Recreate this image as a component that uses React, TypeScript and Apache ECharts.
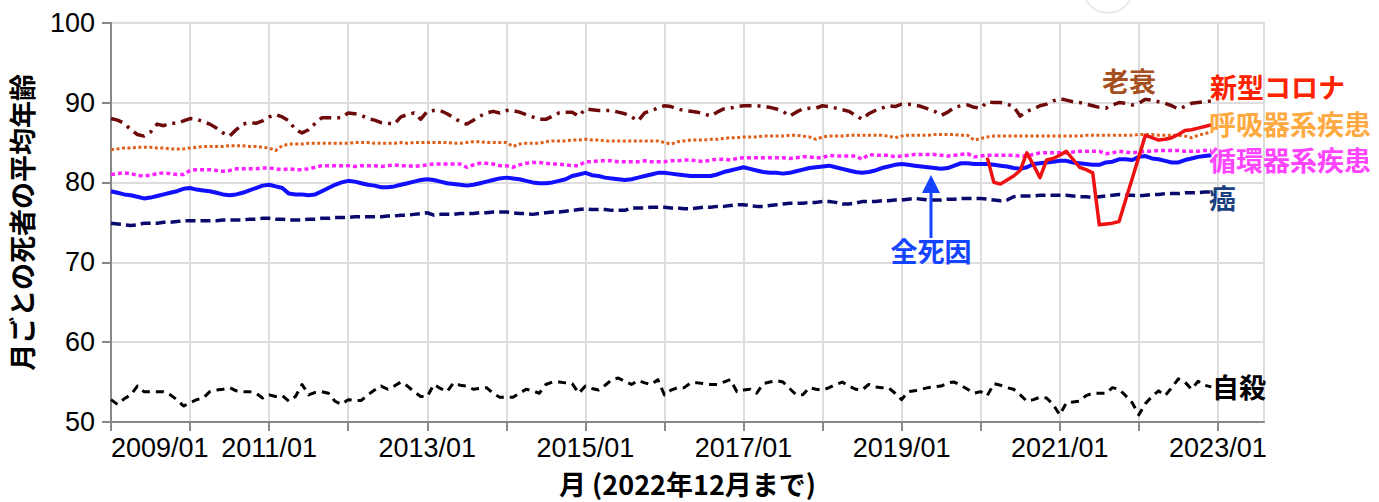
import React, { useEffect, useRef } from "react";
import * as echarts from "echarts";

// monthly values, index 0 = 2009/01 ... 167 = 2022/12
const START_YEAR = 2009;
const X_MAX = 175; // 2023/08 (axis end)
const COVID_START = 133; // 2020/02

const allCauses = [
  78.9, 78.7, 78.5, 78.4, 78.2, 78.0, 78.1, 78.3, 78.5, 78.7, 78.9, 79.2,
  79.3, 79.1, 79.0, 78.9, 78.7, 78.5, 78.4, 78.5, 78.7, 79.0, 79.3, 79.6,
  79.7, 79.5, 79.3, 78.6, 78.5, 78.5, 78.4, 78.5, 78.9, 79.3, 79.7, 80.0,
  80.2, 80.1, 79.9, 79.7, 79.6, 79.4, 79.4, 79.5, 79.7, 79.9, 80.1, 80.3,
  80.4, 80.3, 80.1, 79.9, 79.8, 79.7, 79.6, 79.7, 79.9, 80.1, 80.3, 80.5,
  80.6, 80.5, 80.4, 80.2, 80.0, 79.9, 79.9, 80.0, 80.2, 80.4, 80.8, 81.0,
  81.2, 80.9, 80.8, 80.6, 80.5, 80.4, 80.3, 80.4, 80.6, 80.8, 81.0, 81.2,
  81.2, 81.1, 81.0, 80.9, 80.8, 80.8, 80.8, 80.8, 81.0, 81.3, 81.5, 81.7,
  81.9, 81.7, 81.5, 81.3, 81.2, 81.2, 81.1, 81.2, 81.4, 81.6, 81.8, 81.9,
  82.0, 82.1, 81.9, 81.7, 81.5, 81.3, 81.2, 81.3, 81.5, 81.8, 82.0, 82.2,
  82.3, 82.2, 82.1, 82.0, 81.9, 81.8, 81.7, 81.8, 82.1, 82.4, 82.4, 82.3,
  82.3, 82.3, 82.2, 82.1, 82.0, 81.8, 81.7, 81.9, 82.3, 82.4, 82.5, 82.6,
  82.7, 82.7, 82.5, 82.4, 82.3, 82.2, 82.2, 82.5, 82.6, 82.9, 82.9, 82.8,
  83.2, 83.3, 83.0, 82.9, 82.7, 82.5, 82.5, 82.8, 83.0, 83.2, 83.3, 83.4,
];

const cancer = [
  74.9, 74.8, 74.7, 74.6, 74.7, 74.9, 74.9, 74.9, 75.0, 75.0, 75.1, 75.2,
  75.2, 75.2, 75.2, 75.2, 75.2, 75.3, 75.3, 75.3, 75.3, 75.4, 75.4, 75.5,
  75.5, 75.4, 75.4, 75.3, 75.3, 75.3, 75.4, 75.4, 75.5, 75.5, 75.6, 75.6,
  75.6, 75.7, 75.7, 75.7, 75.7, 75.7, 75.8, 75.8, 75.9, 75.9, 76.0, 76.1,
  76.2, 75.9, 76.0, 76.0, 76.0, 76.1, 76.1, 76.1, 76.2, 76.2, 76.3, 76.3,
  76.3, 76.2, 76.1, 76.1, 76.0, 76.1, 76.2, 76.3, 76.3, 76.4, 76.5, 76.6,
  76.7, 76.6, 76.6, 76.6, 76.5, 76.5, 76.5, 76.8, 76.8, 76.8, 76.9, 76.9,
  76.9, 76.8, 76.8, 76.7, 76.7, 76.8, 76.9, 76.9, 77.0, 77.0, 77.1, 77.2,
  77.2, 77.1, 77.0, 77.0, 77.1, 77.2, 77.3, 77.4, 77.4, 77.4, 77.5, 77.5,
  77.6, 77.6, 77.5, 77.3, 77.3, 77.4, 77.6, 77.6, 77.6, 77.7, 77.7, 77.8,
  77.8, 77.9, 78.0, 77.9, 77.8, 77.8, 77.8, 77.9, 77.9, 78.0, 78.0, 78.0,
  78.0, 77.9, 77.8, 77.7, 77.8, 78.2, 78.3, 78.3, 78.3, 78.4, 78.4, 78.4,
  78.4, 78.4, 78.3, 78.2, 78.2, 78.1, 78.2, 78.3, 78.4, 78.5, 78.4, 78.4,
  78.3, 78.4, 78.5, 78.5, 78.6, 78.6, 78.6, 78.7, 78.7, 78.7, 78.8, 78.8,
];

const circulatory = [
  81.0, 81.1, 81.2, 81.1, 80.9, 80.8, 80.9, 81.1, 81.2, 81.1, 81.0, 81.0,
  81.5, 81.6, 81.6, 81.6, 81.5, 81.4, 81.5, 81.7, 81.7, 81.7, 81.7, 81.8,
  81.8, 81.7, 81.6, 81.7, 81.6, 81.6, 81.7, 81.9, 82.1, 82.1, 82.1, 82.1,
  82.1, 82.0, 82.1, 82.1, 82.1, 82.0, 82.1, 82.2, 82.1, 82.1, 82.0, 82.1,
  82.2, 82.3, 82.3, 82.3, 82.3, 82.3, 81.9, 82.2, 82.4, 82.4, 82.3, 82.1,
  82.1, 81.9, 82.2, 82.4, 82.5, 82.5, 82.4, 82.3, 82.3, 82.2, 82.1, 82.1,
  82.6, 82.6, 82.7, 82.7, 82.7, 82.6, 82.6, 82.6, 82.6, 82.7, 82.6, 82.6,
  82.6, 82.7, 82.7, 82.8, 82.8, 82.7, 82.6, 82.8, 82.9, 82.9, 82.8, 83.0,
  83.1, 83.1, 83.1, 83.1, 83.1, 83.1, 83.1, 83.0, 83.1, 83.2, 83.2, 83.1,
  83.1, 83.4, 83.3, 83.3, 83.3, 83.3, 82.9, 83.5, 83.4, 83.4, 83.4, 83.2,
  83.3, 83.4, 83.5, 83.5, 83.5, 83.5, 83.4, 83.3, 83.4, 83.5, 83.6, 83.2,
  83.3, 83.4, 83.4, 83.4, 83.4, 83.4, 83.3, 83.3, 83.5, 83.7, 83.7, 83.7,
  83.7, 83.7, 83.8, 83.9, 83.9, 83.9, 83.9, 83.6, 83.7, 83.9, 83.8, 83.7,
  83.8, 83.9, 83.9, 84.0, 84.0, 84.0, 84.0, 83.9, 83.9, 83.9, 84.0, 84.0,
];

const respiratory = [
  84.1, 84.2, 84.3, 84.3, 84.4, 84.4, 84.4, 84.3, 84.3, 84.2, 84.2, 84.2,
  84.3, 84.4, 84.5, 84.5, 84.5, 84.5, 84.6, 84.6, 84.6, 84.5, 84.5, 84.4,
  84.3, 84.0, 84.6, 84.8, 84.8, 84.8, 84.9, 84.9, 84.9, 84.9, 84.9, 84.9,
  84.9, 85.0, 85.0, 85.0, 84.9, 84.9, 84.9, 84.9, 85.0, 84.9, 85.0, 85.0,
  85.0, 85.0, 85.0, 85.0, 84.9, 84.9, 85.0, 85.1, 85.1, 85.0, 85.0, 85.0,
  85.0, 84.5, 84.8, 84.9, 84.9, 84.9, 85.1, 85.2, 85.2, 85.2, 85.3, 85.3,
  85.4, 85.3, 85.3, 85.2, 85.2, 85.2, 85.2, 85.2, 85.2, 85.2, 85.2, 85.2,
  85.0, 84.8, 85.1, 85.2, 85.3, 85.3, 85.3, 85.4, 85.4, 85.5, 85.6, 85.6,
  85.7, 85.7, 85.7, 85.8, 85.8, 85.8, 85.8, 85.9, 85.9, 85.8, 85.7, 85.4,
  85.7, 85.8, 85.8, 85.8, 85.9, 85.9, 85.9, 85.9, 85.9, 85.9, 85.8, 85.6,
  85.8, 85.9, 85.9, 85.9, 85.9, 86.0, 86.0, 86.0, 86.0, 85.9, 85.9, 85.3,
  85.5, 85.7, 85.8, 85.8, 85.8, 85.8, 85.8, 85.8, 85.8, 85.8, 85.8, 85.8,
  85.8, 85.8, 85.8, 85.8, 85.9, 85.9, 85.9, 85.9, 85.9, 85.9, 85.9, 85.9,
  86.0, 86.0, 86.0, 85.9, 85.9, 85.9, 85.9, 85.8, 85.6, 85.9, 86.1, 86.3,
];

const senility = [
  88.0, 87.8, 87.4, 86.6, 86.0, 85.8, 86.3, 87.3, 87.1, 87.4, 87.4, 87.7,
  88.0, 87.9, 87.6, 87.3, 86.8, 86.2, 85.8, 86.6, 87.3, 87.5, 87.4, 87.7,
  88.2, 88.5, 88.2, 87.7, 86.6, 86.2, 86.6, 87.4, 88.1, 88.1, 88.1, 88.1,
  88.7, 88.6, 88.4, 88.0, 87.8, 87.5, 87.4, 87.3, 88.2, 88.5, 88.7, 87.9,
  88.9, 89.0, 89.0, 88.6, 88.1, 87.6, 87.3, 87.8, 88.3, 88.7, 88.9, 88.7,
  89.0, 89.0, 88.8, 88.5, 88.2, 87.9, 87.9, 88.3, 88.7, 88.8, 88.8, 88.3,
  89.2, 89.1, 89.0, 89.0, 89.0, 88.8, 88.6, 88.2, 87.7, 88.7, 89.0, 89.3,
  89.6, 89.5, 89.2, 89.0, 88.9, 88.8, 88.6, 88.3, 88.8, 89.2, 89.3, 89.5,
  89.6, 89.6, 89.6, 89.5, 89.4, 89.2, 88.9, 88.3, 88.8, 89.2, 89.3, 89.3,
  89.6, 89.5, 89.3, 89.1, 88.9, 88.4, 87.9, 88.6, 89.0, 89.3, 89.6, 89.5,
  89.8, 89.8, 89.7, 89.5, 89.2, 88.9, 88.4, 88.8, 89.4, 89.6, 89.7, 89.4,
  89.3, 90.1, 90.0, 90.0, 89.8, 89.5, 88.3, 88.9, 89.2, 89.6, 89.8, 90.2,
  90.5, 90.3, 90.1, 90.0, 89.8, 89.6, 89.4, 89.3, 89.7, 90.0, 89.9, 89.7,
  89.9, 90.4, 90.3, 90.1, 89.9, 89.6, 89.2, 89.5, 89.9, 90.0, 90.1, 90.2,
];

const suicide = [
  52.8, 52.2, 52.9, 53.4, 54.5, 53.8, 53.8, 53.8, 53.8, 53.4, 52.8, 52.0,
  52.4, 52.8, 53.0, 53.8, 54.0, 54.1, 54.3, 53.9, 53.8, 53.8, 53.6, 53.0,
  53.4, 53.2, 53.3, 52.6, 53.2, 54.7, 53.4, 53.7, 53.8, 53.6, 52.6, 52.2,
  52.8, 52.7, 52.7, 53.4, 54.0, 54.5, 54.1, 54.5, 55.0, 54.5, 53.8, 53.2,
  53.2, 54.7, 54.2, 53.8, 54.9, 54.6, 54.5, 54.1, 54.2, 54.3, 53.6, 53.1,
  53.1, 53.1, 53.6, 54.1, 53.9, 53.6, 54.7, 55.0, 55.0, 54.9, 54.8, 53.6,
  54.5, 54.2, 54.0, 54.6, 55.3, 55.5, 55.1, 54.7, 55.2, 54.9, 54.7, 55.3,
  53.4, 54.0, 54.3, 54.3, 54.9, 54.9, 54.8, 54.7, 54.7, 55.0, 55.3, 53.8,
  54.0, 54.1, 53.6, 54.8, 55.0, 55.2, 55.0, 54.2, 53.4, 53.4, 54.3, 54.1,
  54.0, 54.3, 54.7, 55.0, 54.5, 54.1, 54.0, 54.7, 54.4, 54.3, 54.3, 53.6,
  52.8, 53.8, 53.9, 54.1, 54.3, 54.4, 54.5, 54.9, 55.0, 54.6, 54.1, 53.6,
  53.8, 53.3, 54.8, 54.6, 54.3, 54.1, 53.4, 52.6, 52.8, 53.1, 53.0, 52.2,
  50.9, 52.4, 52.5, 52.6, 53.3, 53.6, 53.6, 53.6, 54.3, 54.1, 53.3, 52.4,
  50.9, 52.3, 53.2, 53.9, 53.3, 54.3, 55.4, 55.0, 54.1, 55.1, 54.6, 54.4,
];

// 2020/02 .. 2022/12
const covid = [
  83.1, 80.0, 79.8, 80.3, 80.8, 81.5, 83.7, 82.2, 80.6, 82.8, 83.0,
  83.4, 83.9, 82.9, 81.9, 81.6, 81.2, 74.7, 74.8, 74.9, 75.1, 77.8, 80.5,
  83.2, 85.9, 85.6, 85.3, 85.4, 85.6, 86.0, 86.5, 86.6, 86.8, 87.0, 87.2,
];

const toPairs = (arr: number[], start = 0) => arr.map((v, i) => [start + i, v]);

const JP = "'Noto Sans CJK JP', 'Liberation Sans', sans-serif";
const NUM = "'Liberation Sans', Arial, sans-serif";

export default function App() {
  const ref = useRef<HTMLDivElement>(null);

  useEffect(() => {
    document.body.style.margin = "0";
    const chart = echarts.init(ref.current!, null, { renderer: "svg" });

    const line = (name: string, data: number[][], color: string, width: number, type: any, z = 2) => ({
      name,
      type: "line",
      data,
      symbol: "none",
      showSymbol: false,
      z,
      lineStyle: { color, width, type, cap: "butt", join: "round" },
      emphasis: { disabled: true },
      silent: true,
    });

    const label = (text: string, x: number, y: number, fill: string, align = "left") => ({
      type: "text",
      x,
      y,
      z: 100,
      style: {
        text,
        fill,
        font: `bold 27px ${JP}`,
        textAlign: align,
        textVerticalAlign: "middle",
        lineHeight: 28,
      },
    });

    chart.setOption({
      animation: false,
      grid: {
        left: 110,
        right: 115,
        top: 22.7,
        bottom: 78,
        show: true,
        borderColor: "#dddddd",
        borderWidth: 2,
      },
      xAxis: {
        type: "value",
        min: 0,
        max: X_MAX,
        interval: 12,
        name: "月 (2022年12月まで)",
        nameLocation: "middle",
        nameGap: 48,
        nameTextStyle: { fontSize: 27, fontWeight: "bold", color: "#000", fontFamily: JP },
        axisLine: { show: true, lineStyle: { color: "#888", width: 2 } },
        axisTick: { show: true, length: 9, lineStyle: { color: "#888", width: 2 } },
        axisLabel: {
          fontSize: 27,
          color: "#000",
          fontFamily: NUM,
          margin: 12,
          alignMinLabel: "left",
          showMaxLabel: false,
          formatter: (v: number) =>
            v % 24 === 0 ? `${START_YEAR + v / 12}/01` : "",
        },
        splitLine: { show: true, lineStyle: { color: "#dddddd", width: 2 } },
      },
      yAxis: {
        type: "value",
        min: 50,
        max: 100,
        interval: 10,
        name: "月ごとの死者の平均年齢",
        nameLocation: "middle",
        nameGap: 76,
        nameRotate: 90,
        nameTextStyle: { fontSize: 27, fontWeight: "bold", color: "#000", fontFamily: JP },
        axisLine: { show: true, lineStyle: { color: "#888", width: 2 } },
        axisTick: { show: true, length: 9, lineStyle: { color: "#888", width: 2 } },
        axisLabel: { fontSize: 27, color: "#000", fontFamily: NUM, margin: 16 },
        splitLine: { show: true, lineStyle: { color: "#dddddd", width: 2 } },
      },
      series: [
        line("自殺", toPairs(suicide), "#000000", 3, [8, 6]),
        line("癌", toPairs(cancer), "#0a0a6e", 3.5, [10, 5]),
        line("老衰", toPairs(senility), "#6e0a0a", 3.5, [12, 6, 3, 6]),
        line("呼吸器系疾患", toPairs(respiratory), "#e0601a", 3, [3, 2.5]),
        line("循環器系疾患", toPairs(circulatory), "#ff22ff", 3.5, [4, 3]),
        line("全死因", toPairs(allCauses), "#1010ff", 4, "solid", 3),
        line("新型コロナ", toPairs(covid, COVID_START), "#ee1111", 3.5, "solid", 4),
      ],
      graphic: [
        label("老衰", 1102, 80, "#a4501e"),
        label("新型コロナ", 1210, 86, "#ff2200"),
        label("呼吸器系疾患", 1209, 123, "#ffaa40"),
        label("循環器系疾患", 1209, 159, "#ff44ff"),
        label("癌", 1209, 197, "#1a3f80"),
        label("自殺", 1212, 386, "#000000"),
        label("全死因", 931, 250, "#1444ff", "center"),
        {
          type: "line",
          z: 100,
          shape: { x1: 931, y1: 238, x2: 931, y2: 190 },
          style: { stroke: "#1444ff", lineWidth: 3 },
        },
        {
          type: "polygon",
          z: 100,
          shape: { points: [[922, 193], [940, 193], [931, 175]] },
          style: { fill: "#1444ff" },
        },
        {
          type: "circle",
          z: 100,
          shape: { cx: 1108, cy: -12, r: 25 },
          style: { fill: "none", stroke: "#e6e6e6", lineWidth: 1.5 },
        },
      ],
    });

    return () => chart.dispose();
  }, []);

  return (
    <div
      ref={ref}
      style={{ position: "fixed", left: 0, top: 0, width: 1379, height: 502, background: "#fff" }}
    />
  );
}
